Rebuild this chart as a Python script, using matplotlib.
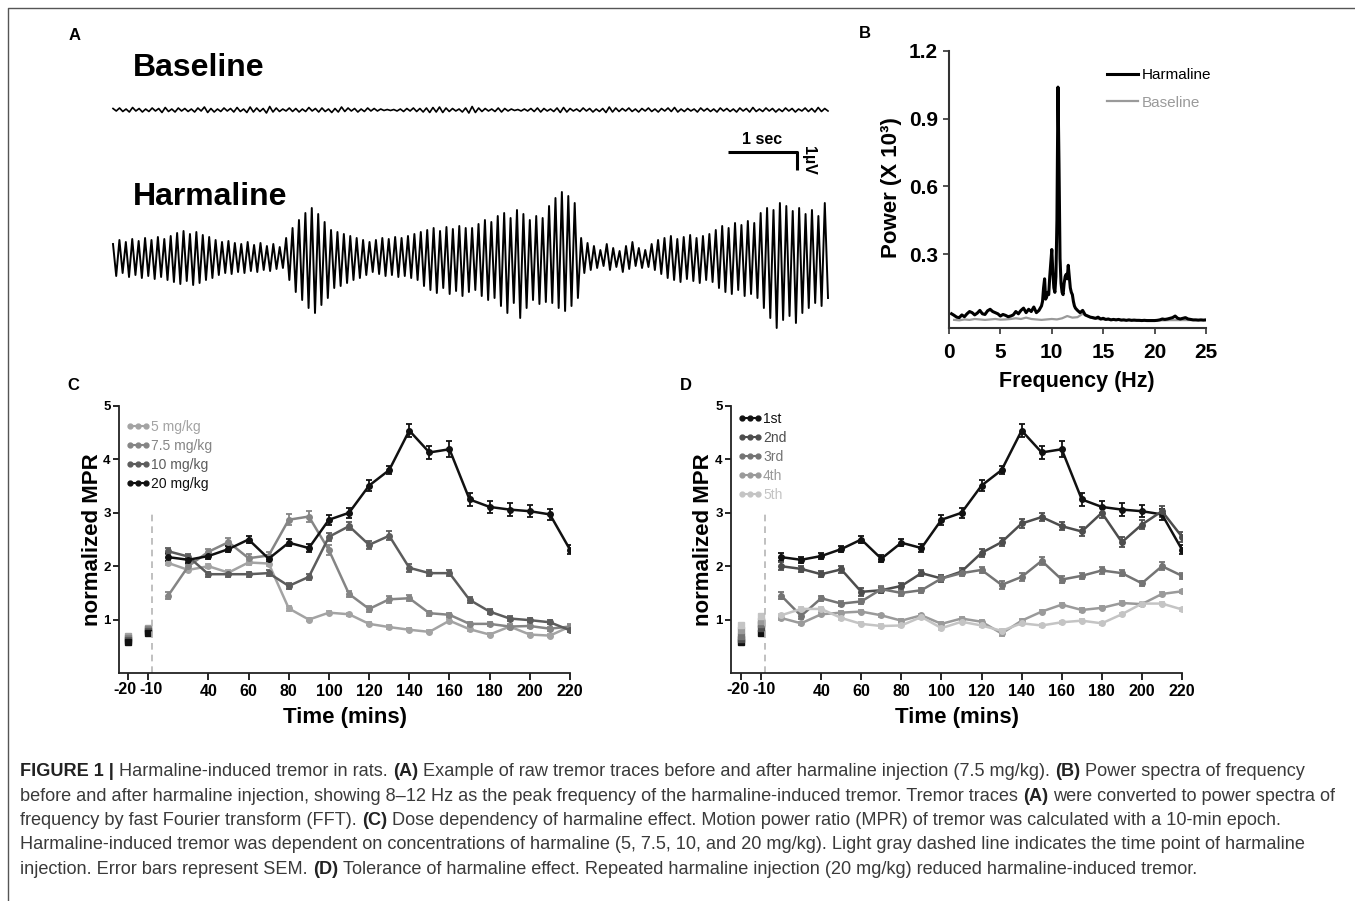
import numpy as np
import matplotlib.pyplot as plt
from matplotlib.lines import Line2D
from matplotlib.font_manager import FontProperties
import matplotlib.transforms as mtrans

# ---------------- data ----------------

# A: raw tremor traces, peak / trough of each cycle (pixel deflection, 1 uV ~ 18 px)
harm_top = [14, 18, 16, 19, 17, 20, 18, 21, 19,
            22, 25, 27, 24, 26, 23, 21,
            18, 16, 17, 15, 14, 16, 13, 15, 12, 14, 11,
            20, 30, 38, 45, 50, 44, 36, 28,
            26, 24, 22, 20, 18,
            16, 18, 20, 19, 21, 20, 22, 24,
            26, 28, 30, 27, 31, 29, 32, 30,
            30, 34, 38, 36, 42, 45, 40, 48, 44, 38, 42, 40,
            52, 60, 66, 62, 55,
            20, 15,
            12, 8, 14, 10, 7, 12, 16, 10, 8,
            14, 18,
            20, 22, 19, 21, 23, 20, 22, 24,
            28, 32, 30, 35, 33, 37, 35,
            45, 50, 48, 55, 52, 47, 50, 44, 48, 42, 55]
harm_bot = [18, 15, 19, 17, 20, 18, 21, 19, 22,
            24, 26, 23, 27, 25, 22, 20,
            17, 15, 16, 14, 15, 13, 14, 12, 13, 11, 10,
            22, 34, 42, 50, 55, 47, 40, 30,
            28, 25, 22, 20, 17,
            14, 16, 18, 17, 19, 18, 20, 22,
            28, 32, 35, 30, 36, 33, 38, 34,
            32, 38, 42, 40, 48, 55, 45, 60, 50, 42, 46, 44,
            45, 50, 53, 48, 40,
            15, 12,
            10, 8, 12, 9, 14, 11, 8, 10, 9,
            12, 16,
            20, 22, 24, 21, 23, 25, 22, 24,
            30, 34, 36, 32, 38, 36, 40,
            50, 60, 70, 62, 58, 65, 55, 50, 45, 48, 40]
base_top = [1.5, 2, 1, 2.5, 1.5, 1, 2, 1.5, 2.5, 1, 2, 1.5, 1, 2, 3, 1.5, 1, 2, 1.5, 2.5,
            1, 3, 2, 1.5, 3.5, 2, 1, 2, 1.5, 1, 2.5, 1.5, 2, 1, 1.5, 3, 2, 1.5, 1, 2,
            1.5, 1, 0.5, 0.5, 1, 1.5, 2, 1.5, 2, 2.5, 3, 2, 1.5, 1, 2, 3.5, 2, 1.5, 1, 2,
            1.5, 1, 0.5, 1, 1.5, 2, 1.5, 1, 2, 2.5, 1.5, 1, 2, 1.5, 1, 1.5, 3, 2, 1.5, 2,
            1, 1.5, 2, 1, 1.5, 2, 2.5, 1, 1.5, 1, 2, 1.5, 1, 2, 1.5, 1, 2, 1.5, 2.5, 1,
            2, 1.5, 1, 2, 1.5, 1, 2, 1.5, 2.5, 1.5]
base_bot = [1, 1.5, 2, 1, 2, 1.5, 1, 2.5, 1.5, 2, 1, 1.5, 2, 1, 2.5, 2, 1.5, 1, 2, 1.5,
            2.5, 2, 1.5, 3, 2, 1.5, 1, 1.5, 2, 1.5, 1, 2, 1.5, 2.5, 2, 1.5, 1, 2, 1.5, 1,
            1, 0.5, 0.5, 1, 1.5, 1, 1.5, 2, 2.5, 2, 2.5, 1.5, 1, 2, 3, 2.5, 1.5, 1, 1.5, 2,
            1, 0.5, 1, 1, 1.5, 2, 1, 1.5, 2.5, 2, 1, 1.5, 1, 2, 1.5, 2.5, 2, 1.5, 1, 1.5,
            2, 1, 1.5, 2, 1, 1.5, 2, 1.5, 1, 2, 1, 1.5, 2, 1, 1.5, 2, 1, 2, 1.5, 1.5,
            1, 2, 1.5, 1, 2, 1, 1.5, 2, 1.5, 1]

# B: power spectra (X 10^3)
harm_pow_lo = [.035, .028, .020, .018, .030, .022, .035, .045, .040, .030, .038, .050,
               .035, .032, .048, .055, .045, .040, .035, .025, .032, .028, .022, .025,
               .030, .045, .035, .050, .060, .040, .055, .045, .065, .040, .050, .070]   # 0.25-9 Hz
harm_pow_mid = [.09, .15, .19, .10, .11, .13, .12, .20, .26, .32, .22, .15, .13, .20,
                .45, 1.04, .70, .28, .17, .13, .12, .17, .20, .21, .19, .25, .20, .15,
                .13, .12, .09, .07, .06, .055, .05]                                      # 9.1-12.5 Hz
harm_pow_hi = [.040, .050, .030, .025, .020, .018, .015, .020, .012, .015,
               .010, .012, .008, .010, .008, .010, .007, .008, .006, .008,
               .006, .007, .006, .006, .005, .006, .005, .005, .005, .005,
               .006, .008, .012, .010, .012, .015, .018, .025, .015, .012,
               .015, .018, .012, .010, .008, .008, .007, .008, .007, .008]               # 12.75-25 Hz
base_pow = [.008, .006, .010, .008, .012, .010, .008, .010, .012, .009,
            .010, .012, .015, .012, .018, .012, .010, .008, .010, .012,
            .010, .015, .025, .018, .020, .035, .025, .015, .012, .010,
            .009, .008, .008, .007, .007, .006, .006, .006, .006, .006,
            .006, .006, .007, .007, .007, .007, .007, .007, .007, .007]                 # 0.5-25 Hz

# C / D: normalized MPR
times = [20, 30, 40, 50, 60, 70, 80, 90, 100, 110, 120, 130, 140, 150, 160, 170, 180, 190, 200, 210, 220]
base_pos = [0, 10]
base_lab = ['-20', '-10']
tick_pos = [40, 60, 80, 100, 120, 140, 160, 180, 200, 220]
tick_lab = ['40', '60', '80', '100', '120', '140', '160', '180', '200', '220']
inject_pos = 12

dose_labels = ['5 mg/kg', '7.5 mg/kg', '10 mg/kg', '20 mg/kg']
dose_colors = ['#a3a3a3', '#858585', '#5c5c5c', '#111111']
c5 = [2.06, 1.93, 2.00, 1.88, 2.07, 2.05, 1.21, 1.00, 1.13, 1.10, 0.92, 0.86, 0.81, 0.77, 0.98, 0.82, 0.72, 0.87, 0.72, 0.70, 0.87]
c75 = [1.45, 2.00, 2.27, 2.45, 2.15, 2.20, 2.87, 2.93, 2.30, 1.48, 1.20, 1.38, 1.40, 1.12, 1.09, 0.92, 0.92, 0.87, 0.88, 0.83, 0.87]
c10 = [2.28, 2.18, 1.85, 1.85, 1.85, 1.87, 1.63, 1.80, 2.55, 2.75, 2.40, 2.57, 1.97, 1.87, 1.87, 1.37, 1.15, 1.02, 0.99, 0.95, 0.80]
c20 = [2.17, 2.12, 2.19, 2.32, 2.50, 2.14, 2.44, 2.34, 2.87, 3.00, 3.51, 3.80, 4.54, 4.13, 4.19, 3.25, 3.11, 3.06, 3.03, 2.97, 2.31]
sem_c5 = [0.04, 0.04, 0.04, 0.04, 0.04, 0.04, 0.04, 0.03, 0.03, 0.03, 0.03, 0.03, 0.03, 0.03, 0.03, 0.03, 0.03, 0.03, 0.03, 0.03, 0.03]
sem_c75 = [0.06, 0.05, 0.06, 0.07, 0.08, 0.06, 0.10, 0.10, 0.09, 0.06, 0.05, 0.06, 0.06, 0.05, 0.04, 0.04, 0.04, 0.04, 0.04, 0.04, 0.04]
sem_c10 = [0.06, 0.05, 0.05, 0.05, 0.05, 0.05, 0.05, 0.05, 0.08, 0.08, 0.07, 0.08, 0.07, 0.06, 0.05, 0.05, 0.04, 0.04, 0.04, 0.04, 0.04]
sem_c20 = [0.07, 0.06, 0.05, 0.06, 0.07, 0.07, 0.07, 0.07, 0.09, 0.09, 0.10, 0.08, 0.12, 0.12, 0.15, 0.12, 0.11, 0.12, 0.11, 0.11, 0.09]
base_c5 = [0.70, 0.85]
base_c75 = [0.66, 0.82]
base_c10 = [0.62, 0.78]
base_c20 = [0.58, 0.75]

inj_labels = ['1st', '2nd', '3rd', '4th', '5th']
inj_colors = ['#111111', '#4d4d4d', '#747474', '#9a9a9a', '#c4c4c4']
d1 = c20
d2 = [2.00, 1.95, 1.85, 1.94, 1.52, 1.55, 1.63, 1.87, 1.77, 1.90, 2.25, 2.45, 2.80, 2.92, 2.75, 2.65, 3.00, 2.45, 2.78, 3.03, 2.55]
d3 = [1.45, 1.07, 1.40, 1.30, 1.34, 1.57, 1.50, 1.55, 1.77, 1.87, 1.93, 1.65, 1.80, 2.10, 1.75, 1.82, 1.92, 1.87, 1.68, 2.00, 1.82]
d4 = [1.03, 0.93, 1.10, 1.13, 1.15, 1.08, 0.98, 1.08, 0.92, 1.02, 0.96, 0.74, 0.98, 1.15, 1.28, 1.18, 1.22, 1.31, 1.29, 1.48, 1.53]
d5 = [1.08, 1.20, 1.20, 1.03, 0.92, 0.88, 0.89, 1.05, 0.84, 0.96, 0.89, 0.79, 0.93, 0.89, 0.95, 0.98, 0.93, 1.10, 1.30, 1.30, 1.19]
sem_d1 = sem_c20
sem_d2 = [0.07, 0.06, 0.06, 0.07, 0.07, 0.06, 0.06, 0.05, 0.06, 0.07, 0.08, 0.08, 0.08, 0.08, 0.08, 0.08, 0.10, 0.09, 0.09, 0.10, 0.09]
sem_d3 = [0.06, 0.05, 0.05, 0.05, 0.05, 0.05, 0.05, 0.05, 0.05, 0.05, 0.06, 0.07, 0.07, 0.07, 0.06, 0.06, 0.06, 0.06, 0.05, 0.07, 0.06]
sem_d4 = [0.04, 0.03, 0.04, 0.03, 0.03, 0.03, 0.03, 0.03, 0.03, 0.03, 0.03, 0.04, 0.03, 0.03, 0.03, 0.03, 0.03, 0.03, 0.03, 0.04, 0.03]
sem_d5 = [0.03, 0.04, 0.03, 0.03, 0.03, 0.03, 0.03, 0.03, 0.03, 0.03, 0.03, 0.03, 0.03, 0.03, 0.03, 0.03, 0.03, 0.03, 0.03, 0.03, 0.03]
base_d1 = [0.58, 0.75]
base_d2 = [0.64, 0.85]
base_d3 = [0.70, 0.92]
base_d4 = [0.80, 0.98]
base_d5 = [0.90, 1.07]

caption = [
    [("FIGURE 1 |", True), ("Harmaline-induced tremor in rats.", False), ("(A)", True),
     ("Example of raw tremor traces before and after harmaline injection (7.5 mg/kg).", False),
     ("(B)", True), ("Power spectra of frequency", False)],
    [("before and after harmaline injection, showing 8\u201312 Hz as the peak frequency of the "
      "harmaline-induced tremor. Tremor traces", False), ("(A)", True),
     ("were converted to power spectra of", False)],
    [("frequency by fast Fourier transform (FFT).", False), ("(C)", True),
     ("Dose dependency of harmaline effect. Motion power ratio (MPR) of tremor was calculated "
      "with a 10-min epoch.", False)],
    [("Harmaline-induced tremor was dependent on concentrations of harmaline (5, 7.5, 10, and "
      "20 mg/kg). Light gray dashed line indicates the time point of harmaline", False)],
    [("injection. Error bars represent SEM.", False), ("(D)", True),
     ("Tolerance of harmaline effect. Repeated harmaline injection (20 mg/kg) reduced "
      "harmaline-induced tremor.", False)],
]

# ---------------- layout helpers (pixel positions of the reference) ----------------
W, H = 1355, 901
SANS = ['Liberation Sans', 'DejaVu Sans']
NARROW = ['Liberation Sans Narrow', 'Liberation Sans', 'DejaVu Sans']
plt.rcParams['font.family'] = SANS

fig = plt.figure(figsize=(W / 100, H / 100), dpi=100)


def fx(px):
    return px / W


def fy(py):
    return 1 - py / H


def box(l, t, r, b):
    return [fx(l), fy(b), (r - l) / W, (b - t) / H]


def zigzag(tops, bots, dur):
    n = min(len(tops), len(bots))
    y = np.ravel(np.column_stack([np.asarray(tops[:n], float), -np.asarray(bots[:n], float)]))
    t = np.linspace(0, dur, len(y))
    return t, y


# frame
fig.add_artist(Line2D([fx(8), fx(8), 1], [0, fy(8), fy(8)], transform=fig.transFigure,
                      color='#555555', lw=1))

# panel letters
for lab, px, py in [('A', 75, 35), ('B', 865, 33), ('C', 73, 385), ('D', 686, 386)]:
    fig.text(fx(px), fy(py), lab, fontsize=12, fontweight='bold', ha='center', va='center')

# ---------------- A ----------------
sec_px = 69.0
trace_dur = (828 - 113) / sec_px
ax_a = fig.add_axes(box(100, 40, 840, 345))
ax_a.set_axis_off()
ax_a.set_xlim((100 - 113) / sec_px, (840 - 113) / sec_px)
ax_a.set_ylim(258 - 345, 258 - 40)

t, y = zigzag(base_top, base_bot, trace_dur)
ax_a.plot(t, y + 148, color='black', lw=1.2)
t, y = zigzag(harm_top, harm_bot, trace_dur)
ax_a.plot(t, y, color='black', lw=1.4)

# scale bar
x0, x1 = (728 - 113) / sec_px, (797 - 113) / sec_px
ax_a.plot([x0, x1, x1], [258 - 152, 258 - 152, 258 - 170], color='black', lw=2.2,
          solid_capstyle='butt')
fig.text(fx(762), fy(139), '1 sec', fontsize=11.5, fontweight='bold', ha='center', va='center')
fig.text(fx(809), fy(160), '1\u00b5V', fontsize=11.5, fontweight='bold', ha='center', va='center',
         rotation=270)

fig.text(fx(133), fy(68), 'Baseline', fontsize=23, fontweight='bold', ha='left', va='center')
fig.text(fx(133), fy(197), 'Harmaline', fontsize=23, fontweight='bold', ha='left', va='center')

# ---------------- B ----------------
ax_b = fig.add_axes(box(949, 51, 1206, 328))
f_lo = np.linspace(0.25, 9.0, len(harm_pow_lo))
f_mid = np.linspace(9.1, 12.5, len(harm_pow_mid))
f_hi = np.linspace(12.75, 25.0, len(harm_pow_hi))
harm_freq = np.concatenate([f_lo, f_mid, f_hi])
harm_pow = np.concatenate([harm_pow_lo, harm_pow_mid, harm_pow_hi])
base_freq = np.linspace(0.5, 25.0, len(base_pow))

lb, = ax_b.plot(base_freq, base_pow, color='#9a9a9a', lw=1.6)
lh, = ax_b.plot(harm_freq, harm_pow, color='black', lw=2.2)
ax_b.set_xlim(0, 25)
ax_b.set_ylim(-0.028, 1.2)
ax_b.set_xticks([0, 5, 10, 15, 20, 25])
ax_b.set_yticks([0.3, 0.6, 0.9, 1.2], labels=['0.3', '0.6', '0.9', '1.2'])
for s in ['top', 'right']:
    ax_b.spines[s].set_visible(False)
for s in ['left', 'bottom']:
    ax_b.spines[s].set_linewidth(1.5)
    ax_b.spines[s].set_color('#333333')
ax_b.tick_params(direction='out', length=4, width=1.2, colors='#333333', labelcolor='black',
                 labelsize=15)
ax_b.tick_params(axis='x', pad=7)
ax_b.tick_params(axis='y', pad=4)
for lab in ax_b.get_xticklabels() + ax_b.get_yticklabels():
    lab.set_fontweight('bold')
fig.text(fx(892), fy(188), 'Power (X 10\u00b3)', fontsize=16, fontweight='bold', rotation=90,
         ha='center', va='center')
fig.text(fx(1077), fy(382), 'Frequency (Hz)', fontsize=15.5, fontweight='bold',
         ha='center', va='center')
ax_b.legend([lh, lb], ['Harmaline', 'Baseline'], loc='upper left',
            bbox_to_anchor=(fx(1107), fy(68)), bbox_transform=fig.transFigure,
            frameon=False, fontsize=11, handlelength=2.0, handletextpad=0.3,
            labelspacing=0.9, borderpad=0, borderaxespad=0, labelcolor='linecolor')


# ---------------- C / D ----------------
def mpr_panel(rect, xmin, series, legend_xy):
    ax = fig.add_axes(rect)
    handles = []
    for vals, sem, base, col, lab in series:
        ax.errorbar(times, vals, yerr=sem, color=col, lw=1.8, marker='o', ms=4,
                    capsize=2.5, elinewidth=1.3, capthick=1.3)
        ax.plot(base_pos, base, 's', color=col, ms=4)
        handles.append(Line2D([], [], color=col, lw=1.5, marker='o', ms=3.5, label=lab))
    ax.plot([inject_pos, inject_pos], [0, 3.05], color='#b5b5b5', lw=1.2, dashes=(4, 3))
    ax.set_xlim(xmin, 220)
    ax.set_ylim(0, 5)
    ax.set_xticks(base_pos + tick_pos,
                  labels=[''] * len(base_pos) + tick_lab, fontsize=11.5, fontweight='bold',
                  family=NARROW)
    # the two pre-injection labels sit close together: nudge them apart
    for p, lab, dx in zip(base_pos, base_lab, (-2.2, 2.2)):
        ax.annotate(lab, xy=(p, 0), xycoords=mtrans.blended_transform_factory(ax.transData, ax.transAxes),
                    xytext=(dx, -6.6), textcoords='offset points', ha='center', va='top',
                    fontsize=11.5, fontweight='bold', family=NARROW)
    ax.set_yticks([1, 2, 3, 4, 5], labels=['1', '2', '3', '4', '5'], fontsize=9.5,
                  fontweight='bold', family=NARROW)
    for s in ['top', 'right']:
        ax.spines[s].set_visible(False)
    for s in ['left', 'bottom']:
        ax.spines[s].set_linewidth(1.3)
        ax.spines[s].set_color('#222222')
    ax.tick_params(axis='x', direction='out', length=5, width=1.2, pad=3)
    ax.tick_params(axis='y', direction='out', length=4, width=1.2, pad=2)
    ax.legend(handles=handles, loc='upper left', bbox_to_anchor=legend_xy,
              bbox_transform=fig.transFigure, frameon=False, fontsize=10, numpoints=3,
              handlelength=1.75, handletextpad=0.05, labelspacing=0.36, borderpad=0,
              borderaxespad=0, labelcolor='linecolor')
    return ax


dose_series = [(c5, sem_c5, base_c5, dose_colors[0], dose_labels[0]),
               (c75, sem_c75, base_c75, dose_colors[1], dose_labels[1]),
               (c10, sem_c10, base_c10, dose_colors[2], dose_labels[2]),
               (c20, sem_c20, base_c20, dose_colors[3], dose_labels[3])]
mpr_panel(box(119, 406, 570, 673), -4.5, dose_series, (fx(126), fy(420)))

inj_series = [(d1, sem_d1, base_d1, inj_colors[0], inj_labels[0]),
              (d2, sem_d2, base_d2, inj_colors[1], inj_labels[1]),
              (d3, sem_d3, base_d3, inj_colors[2], inj_labels[2]),
              (d4, sem_d4, base_d4, inj_colors[3], inj_labels[3]),
              (d5, sem_d5, base_d5, inj_colors[4], inj_labels[4])]
mpr_panel(box(731, 406, 1182, 673), -5, inj_series, (fx(738), fy(412)))

for cx in (93, 704):
    fig.text(fx(cx), fy(540), 'normalized MPR', fontsize=16, fontweight='bold', rotation=90,
             ha='center', va='center')
for cx in (345, 957):
    fig.text(fx(cx), fy(717), 'Time (mins)', fontsize=16, fontweight='bold',
             ha='center', va='center')

# ---------------- caption ----------------
renderer = fig.canvas.get_renderer()


def text_w(s, size, bold):
    fp = FontProperties(family=NARROW, size=size, weight='bold' if bold else 'normal')
    return renderer.get_text_width_height_descent(s, fp, ismath=False)[0]


def line_w(parts, size):
    sp = text_w('a a', size, False) - text_w('aa', size, False)
    return sum(text_w(p, size, b) for p, b in parts) + sp * (len(parts) - 1)


size0 = 11.0
cap_size = size0 * 1320 / line_w(caption[1], size0)
space = text_w('a a', cap_size, False) - text_w('aa', cap_size, False)
for i, parts in enumerate(caption):
    x = 20
    py = 772 + i * 24.3
    for txt, bold in parts:
        fig.text(fx(x), fy(py), txt, fontsize=cap_size, family=NARROW,
                 fontweight='bold' if bold else 'normal',
                 color='#222222' if bold else '#3a3a3a', ha='left', va='center')
        x += text_w(txt, cap_size, bold) + space

plt.savefig('out.png', dpi=100)
